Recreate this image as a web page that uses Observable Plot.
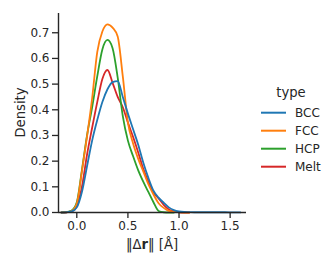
<!DOCTYPE html>
<html><head><meta charset="utf-8">
<script src="https://cdn.jsdelivr.net/npm/d3@7"></script>
<script src="https://cdn.jsdelivr.net/npm/@observablehq/plot@0.6"></script>
<style>body{margin:0;background:#fff} svg{display:block}</style>
</head><body><div id="chart"></div>
<script>
const xs   = [-0.15,-0.1,-0.05,0,0.05,0.1,0.15,0.2,0.25,0.3,0.35,0.4,0.45,0.5,0.55,0.6,0.65,0.7,0.75,0.8,0.85,0.9,0.95,1.0,1.05,1.1,1.15,1.2,1.25,1.3,1.35,1.4,1.45,1.5,1.55,1.6];
const bcc  = [0,0.001,0.004,0.02,0.08,0.18,0.28,0.36,0.43,0.48,0.508,0.512,0.45,0.385,0.325,0.265,0.195,0.135,0.085,0.058,0.038,0.02,0.009,0.004,0.002,0.0015,0.001,0.001,0.001,0.001,0.001,0.001,0.001,0.0008,0.0005,0.0002];
const fcc  = [0,0.001,0.006,0.035,0.16,0.296,0.445,0.625,0.705,0.733,0.72,0.685,0.53,0.35,0.27,0.21,0.16,0.11,0.07,0.036,0.018,0.006,0.002,0.001,0,0,null,null,null,null,null,null,null,null,null,null];
const hcp  = [0,0.002,0.008,0.04,0.165,0.30,0.41,0.53,0.635,0.672,0.64,0.525,0.375,0.28,0.22,0.165,0.12,0.08,0.04,0.006,0.001,0,0,null,null,null,null,null,null,null,null,null,null,null,null,null];
const melt = [0,0.001,0.004,0.025,0.10,0.225,0.33,0.43,0.52,0.555,0.505,0.45,0.41,0.35,0.295,0.235,0.17,0.12,0.078,0.055,0.03,0.012,0.004,0.001,0,0,null,null,null,null,null,null,null,null,null,null];
const categories = ["BCC","FCC","HCP","Melt"];
const colors = ["#1f77b4","#ff7f0e","#2ca02c","#d62728"];
const xTicks = [0,0.5,1.0,1.5];
const yTicks = [0,0.1,0.2,0.3,0.4,0.5,0.6,0.7];
const series = {BCC: bcc, FCC: fcc, HCP: hcp, Melt: melt};

const rows = [];
for (const c of categories.slice().reverse()) series[c].forEach((v,i) => rows.push({x: xs[i], y: v, type: c}));

const xDomain = [-0.179, 1.66];
const ink = "#262626";
const chart = Plot.plot({
  width: 332, height: 263,
  marginLeft: 58, marginRight: 86, marginTop: 13, marginBottom: 51,
  style: {fontFamily: "DejaVu Sans", color: ink, background: "#fff"},
  x: {domain: xDomain},
  y: {domain: [0, 0.775]},
  color: {domain: categories, range: colors},
  marks: [
    Plot.line(rows, {x: "x", y: "y", z: "type", stroke: "type", strokeWidth: 1.8, curve: "monotone-x"}),
    Plot.ruleX([xDomain[0]], {stroke: ink, strokeWidth: 1.4}),
    Plot.ruleY([0], {stroke: ink, strokeWidth: 1.4}),
    Plot.axisY({ticks: yTicks, tickFormat: d3.format(".1f"), tickSize: 6, tickPadding: 3, fontSize: 12, strokeWidth: 1.3, label: null}),
    Plot.axisX({ticks: xTicks, tickFormat: d3.format(".1f"), tickSize: 6, tickPadding: 3, fontSize: 12, strokeWidth: 1.3, label: null})
  ]
});
document.getElementById("chart").append(chart);
const svg = d3.select(chart);
svg.append("text").attr("transform", "translate(24.5,112.5) rotate(-90)")
  .attr("text-anchor", "middle").attr("font-size", 13.2).attr("fill", ink).text("Density");
const xl = svg.append("text").attr("x", 152).attr("y", 249).attr("text-anchor", "middle")
  .attr("font-size", 13.2).attr("fill", ink);
xl.append("tspan").text("‖Δ");
xl.append("tspan").attr("font-weight", "bold").text("r");
xl.append("tspan").text("‖ [Å]");
svg.append("text").attr("x", 291).attr("y", 97).attr("text-anchor", "middle")
  .attr("font-size", 13.2).attr("fill", ink).text("type");
categories.forEach((c, i) => {
  const y = 112.7 + i * 18;
  svg.append("line").attr("x1", 261).attr("x2", 286).attr("y1", y).attr("y2", y)
    .attr("stroke", colors[i]).attr("stroke-width", 2);
  svg.append("text").attr("x", 295).attr("y", y).attr("dy", "0.35em").attr("text-anchor", "start")
    .attr("font-size", 12).attr("fill", ink).text(c);
});
</script></body></html>
